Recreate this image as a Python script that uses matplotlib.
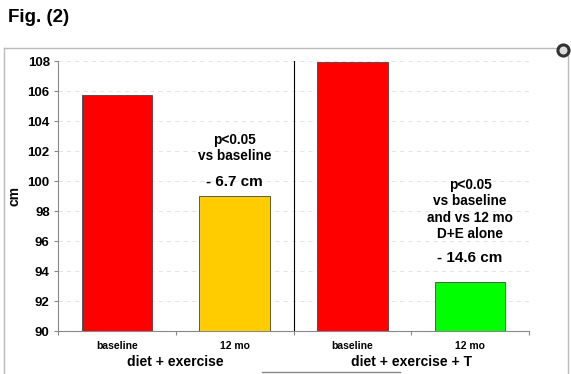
import matplotlib.pyplot as plt
from matplotlib.lines import Line2D

plt.rcParams['font.family'] = ['Liberation Sans', 'DejaVu Sans']

# data
categories = ["baseline", "12 mo", "baseline", "12 mo"]
groups = ["diet + exercise", "diet + exercise + T"]
values = [105.7, 99.0, 107.9, 93.3]
colors = ["#ff0000", "#ffcc00", "#ff0000", "#00ff00"]
yticks = [90, 92, 94, 96, 98, 100, 102, 104, 106, 108]

fig = plt.figure(figsize=(5.71, 3.74), dpi=100)
ax = fig.add_axes([58 / 571, 1 - 331 / 374, (529 - 58) / 571, (331 - 61) / 374])

x = range(len(values))
ax.bar(x, [v - 90 for v in values], bottom=90, width=0.6, color=colors,
       edgecolor="#444444", linewidth=0.6, zorder=3)

ax.set_xlim(-0.5, 3.5)
ax.set_ylim(90, 108)
ax.set_yticks(yticks)
ax.set_yticklabels([str(t) for t in yticks], fontsize=9.5, fontweight="bold")
ax.yaxis.grid(True, color="#e0e0e0", linestyle=(0, (5, 5)), linewidth=0.6, zorder=0)
ax.set_ylabel("cm", fontsize=10, fontweight="bold", labelpad=4)

ax.set_xticks([-0.5, 0.5, 1.5, 2.5, 3.5])
ax.set_xticklabels([])
ax.set_xticks(list(x), minor=True)
ax.set_xticklabels(categories, minor=True, fontsize=7.5, fontweight="bold")
ax.tick_params(axis="x", which="minor", length=0, pad=7)
ax.tick_params(axis="x", which="major", length=3, color="#888888")
ax.tick_params(axis="y", length=3, color="#888888", pad=3)

for s in ["top", "right"]:
    ax.spines[s].set_visible(False)
ax.spines["left"].set_color("#888888")
ax.spines["bottom"].set_color("#888888")

# divider between groups
ax.axvline(1.5, color="black", linewidth=0.8, zorder=4)

# group labels
ax.text(0.5, -0.115, groups[0], transform=ax.get_xaxis_transform(),
        ha="center", va="center", fontsize=10, fontweight="bold")
ax.text(2.5, -0.115, groups[1], transform=ax.get_xaxis_transform(),
        ha="center", va="center", fontsize=10, fontweight="bold")

# annotations
ax.text(1, 102.2, "p<0.05\nvs baseline", ha="center", va="center",
        fontsize=9.8, fontweight="bold", linespacing=1.2)
ax.text(1, 99.95, "- 6.7 cm", ha="center", va="center",
        fontsize=11, fontweight="bold")
ax.text(3, 98.1, "p<0.05\nvs baseline\nand vs 12 mo\nD+E alone", ha="center",
        va="center", fontsize=9.8, fontweight="bold", linespacing=1.2)
ax.text(3, 94.85, "- 14.6 cm", ha="center", va="center",
        fontsize=11, fontweight="bold")

# title and surrounding frame
fig.text(8 / 571, 1 - 18 / 374, "Fig. (2)", ha="left", va="center",
         fontsize=13.5, fontweight="bold")
fc = "#bbbbbb"
fig.add_artist(Line2D([4 / 571, 568 / 571], [1 - 48 / 374] * 2, color=fc, lw=1))
fig.add_artist(Line2D([4 / 571] * 2, [0, 1 - 48 / 374], color=fc, lw=1))
fig.add_artist(Line2D([568 / 571] * 2, [0, 1 - 48 / 374], color=fc, lw=1))
fig.add_artist(Line2D([262 / 571, 400 / 571], [1 - 372 / 374] * 2, color="#888888", lw=1))
fig.add_artist(Line2D([563 / 571], [1 - 50 / 374], marker="o", markersize=8,
                      markerfacecolor="#dddddd", markeredgecolor="#333333",
                      markeredgewidth=2.2))

fig.savefig("out.png", dpi=100)
